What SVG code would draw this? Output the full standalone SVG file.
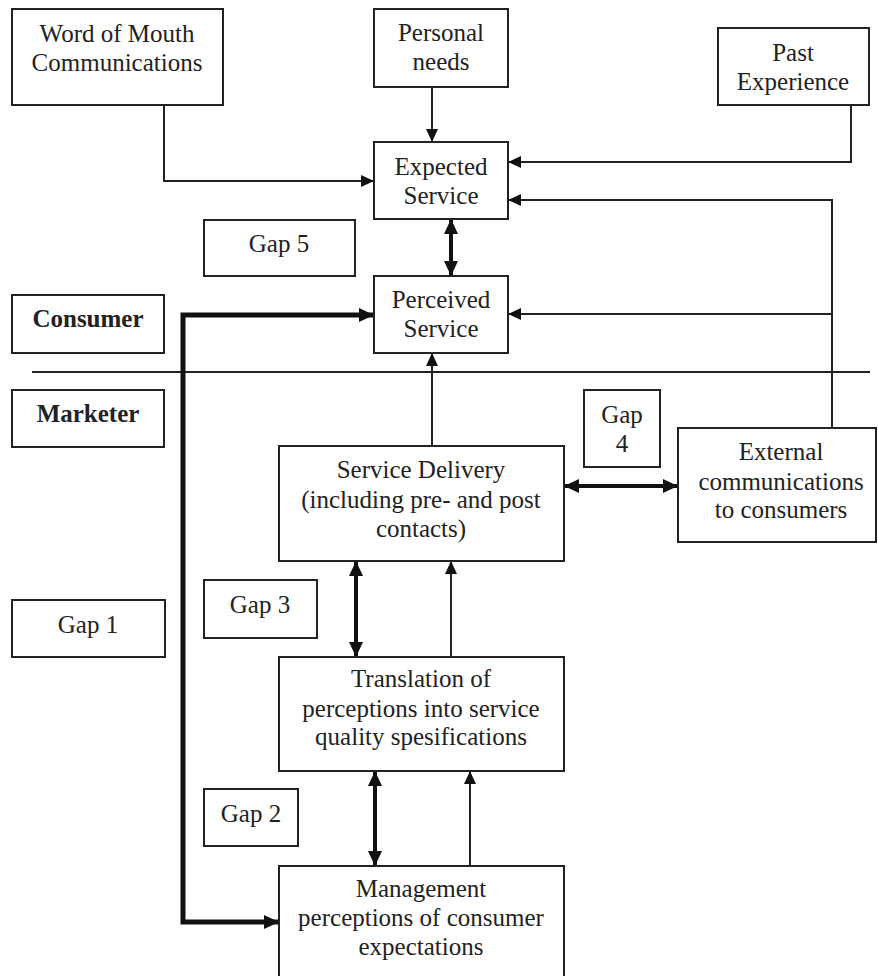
<svg xmlns="http://www.w3.org/2000/svg" width="878" height="976" viewBox="0 0 878 976">
<defs>
<style>
.box{fill:#fff;stroke:#222;stroke-width:2}
.t{font-family:"Liberation Serif","Times New Roman",serif;font-size:25px;fill:#222;text-anchor:middle}
.b{font-weight:bold}
.ln{fill:none;stroke:#222;stroke-width:2}
.thick{fill:none;stroke:#111;stroke-width:4}
.heavy{fill:none;stroke:#111;stroke-width:5}
</style>
<marker id="ah" markerUnits="userSpaceOnUse" viewBox="0 0 13 12" markerWidth="13" markerHeight="12" refX="13" refY="6" orient="auto-start-reverse">
<path d="M0,0 L13,6 L0,12 z" fill="#111"/>
</marker>
<marker id="ahb" markerUnits="userSpaceOnUse" viewBox="0 0 15 14" markerWidth="15" markerHeight="14" refX="15" refY="7" orient="auto-start-reverse">
<path d="M0,0 L15,7 L0,14 z" fill="#111"/>
</marker>
</defs>
<rect width="878" height="976" fill="#fff"/>

<g id="connectors">
<line class="ln" x1="32" y1="372" x2="870" y2="372"/>
<path class="ln" d="M164 105 V181 H374" marker-end="url(#ah)"/>
<path class="ln" d="M432 87 V142" marker-end="url(#ah)"/>
<path class="ln" d="M851 105 V162 H508" marker-end="url(#ah)"/>
<path class="ln" d="M832 428 V200 H508" marker-end="url(#ah)"/>
<path class="ln" d="M832 314 H508" marker-end="url(#ah)"/>
<path class="ln" d="M432 446 V353" marker-end="url(#ah)"/>
<path class="ln" d="M451 657 V561" marker-end="url(#ah)"/>
<path class="ln" d="M470 866 V771" marker-end="url(#ah)"/>
<path class="thick" d="M451 219 V276" marker-start="url(#ahb)" marker-end="url(#ahb)"/>
<path class="thick" d="M564 486 H678" marker-start="url(#ahb)" marker-end="url(#ahb)"/>
<path class="thick" d="M356 561 V657" marker-start="url(#ahb)" marker-end="url(#ahb)"/>
<path class="thick" d="M375 771 V866" marker-start="url(#ahb)" marker-end="url(#ahb)"/>
<path class="heavy" d="M374 315 H183 V922 H279" marker-start="url(#ahb)" marker-end="url(#ahb)"/>
</g>

<g id="word-of-mouth">
<rect class="box" x="12" y="9" width="211" height="96"/>
<text class="t" x="117" y="42">Word of Mouth</text>
<text class="t" x="117" y="71">Communications</text>
</g>
<g id="personal-needs">
<rect class="box" x="374" y="9" width="134" height="78"/>
<text class="t" x="441" y="41">Personal</text>
<text class="t" x="441" y="70">needs</text>
</g>
<g id="past-experience">
<rect class="box" x="718" y="28" width="151" height="77"/>
<text class="t" x="793" y="61">Past</text>
<text class="t" x="793" y="90">Experience</text>
</g>
<g id="expected-service">
<rect class="box" x="374" y="142" width="134" height="77"/>
<text class="t" x="441" y="175">Expected</text>
<text class="t" x="441" y="204">Service</text>
</g>
<g id="gap5">
<rect class="box" x="204" y="220" width="151" height="56"/>
<text class="t" x="279" y="252">Gap 5</text>
</g>
<g id="perceived-service">
<rect class="box" x="374" y="276" width="134" height="77"/>
<text class="t" x="441" y="308">Perceived</text>
<text class="t" x="441" y="337">Service</text>
</g>
<g id="consumer">
<rect class="box" x="12" y="295" width="152" height="58"/>
<text class="t b" x="88" y="327">Consumer</text>
</g>
<g id="marketer">
<rect class="box" x="12" y="390" width="152" height="57"/>
<text class="t b" x="88" y="422">Marketer</text>
</g>
<g id="gap4">
<rect class="box" x="584" y="390" width="76" height="77"/>
<text class="t" x="622" y="423">Gap</text>
<text class="t" x="622" y="452">4</text>
</g>
<g id="external-communications">
<rect class="box" x="678" y="428" width="198" height="114"/>
<text class="t" x="781" y="460">External</text>
<text class="t" x="781" y="490">communications</text>
<text class="t" x="781" y="518">to consumers</text>
</g>
<g id="service-delivery">
<rect class="box" x="279" y="446" width="285" height="115"/>
<text class="t" x="421" y="478">Service Delivery</text>
<text class="t" x="421" y="508">(including pre- and post</text>
<text class="t" x="421" y="537">contacts)</text>
</g>
<g id="gap3">
<rect class="box" x="204" y="580" width="113" height="58"/>
<text class="t" x="260" y="613">Gap 3</text>
</g>
<g id="gap1">
<rect class="box" x="12" y="600" width="153" height="57"/>
<text class="t" x="88" y="633">Gap 1</text>
</g>
<g id="translation">
<rect class="box" x="279" y="657" width="285" height="114"/>
<text class="t" x="421" y="687">Translation of</text>
<text class="t" x="421" y="717">perceptions into service</text>
<text class="t" x="421" y="745">quality spesifications</text>
</g>
<g id="gap2">
<rect class="box" x="204" y="789" width="94" height="57"/>
<text class="t" x="251" y="822">Gap 2</text>
</g>
<g id="management">
<rect class="box" x="279" y="866" width="285" height="120"/>
<text class="t" x="421" y="897">Management</text>
<text class="t" x="421" y="926">perceptions of consumer</text>
<text class="t" x="421" y="955">expectations</text>
</g>
</svg>
